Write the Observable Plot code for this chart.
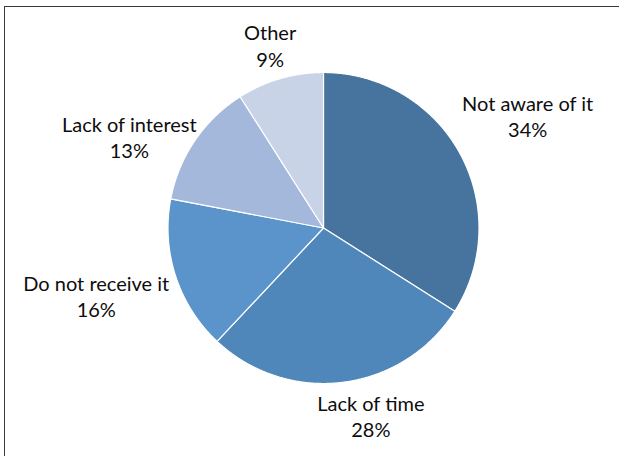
<!DOCTYPE html>
<html>
<head>
<meta charset="utf-8">
<script src="https://cdn.jsdelivr.net/npm/d3@7"></script>
<script src="https://cdn.jsdelivr.net/npm/@observablehq/plot@0.6"></script>
<style>
  html, body { margin: 0; padding: 0; background: #fff; }
  #wrap { position: relative; width: 619px; height: 456px; overflow: hidden; }
  #frame { position: absolute; left: 4px; top: 6px; right: -2px; bottom: -2px;
           border-left: 1.5px solid #3a3a3a; border-top: 1.5px solid #3a3a3a; pointer-events: none; }
</style>
</head>
<body>
<div id="wrap"><div id="chart"></div><div id="frame"></div></div>
<script>
// Data
const categories = ["Not aware of it", "Lack of time", "Do not receive it", "Lack of interest", "Other"];
const values = [34, 28, 16, 13, 9];
const percentLabels = ["34%", "28%", "16%", "13%", "9%"];
const colors = ["#46749f", "#5087bb", "#5b94cb", "#a3b8da", "#c8d3e7"];

// Layout (pixels)
const W = 619, H = 456, CX = 323, CY = 227.5, R = 155.5;
const labelR = 1.3;
const nudges = {
  "Not aware of it": [27, -15],
  "Lack of time": [22, -13],
  "Do not receive it": [-35, 5],
  "Lack of interest": [-27, 22],
  "Other": [3, 11]
};

const table = categories.map((c, i) => ({cat: c, value: values[i], pct: percentLabels[i]}));
const arcs = d3.pie().sort(null).value(d => d.value)(table);

const pts = [];
for (const a of arcs) {
  const cat = a.data.cat;
  pts.push({cat, x: 0, y: 0});
  const n = Math.max(2, Math.ceil((a.endAngle - a.startAngle) / 0.005));
  for (let k = 0; k <= n; k++) {
    const t = a.startAngle + (a.endAngle - a.startAngle) * k / n;
    pts.push({cat, x: Math.sin(t), y: Math.cos(t)});
  }
}

const labels = arcs.map(a => {
  const m = (a.startAngle + a.endAngle) / 2;
  const [dx, dy] = nudges[a.data.cat];
  return {
    text: a.data.cat + "\n" + a.data.pct,
    x: labelR * Math.sin(m) + dx / R,
    y: labelR * Math.cos(m) - dy / R
  };
});

const chart = Plot.plot({
  width: W, height: H,
  margin: 0,
  x: {domain: [-CX / R, (W - CX) / R], range: [0, W], axis: null},
  y: {domain: [-(H - CY) / R, CY / R], range: [H, 0], axis: null},
  color: {domain: categories, range: colors},
  style: {fontFamily: "Lato, 'Open Sans', sans-serif", background: "transparent"},
  marks: [
    Plot.line(pts, {x: "x", y: "y", z: "cat", fill: "cat", stroke: "white", strokeWidth: 1.2, curve: "linear-closed", strokeLinejoin: "round"}),
    Plot.text(labels, {x: "x", y: "y", text: "text", fontSize: 20, lineHeight: 1.33, fill: "#0d0d0d", textAnchor: "middle", lineAnchor: "middle"})
  ]
});
document.getElementById("chart").appendChild(chart);
</script>
</body>
</html>
